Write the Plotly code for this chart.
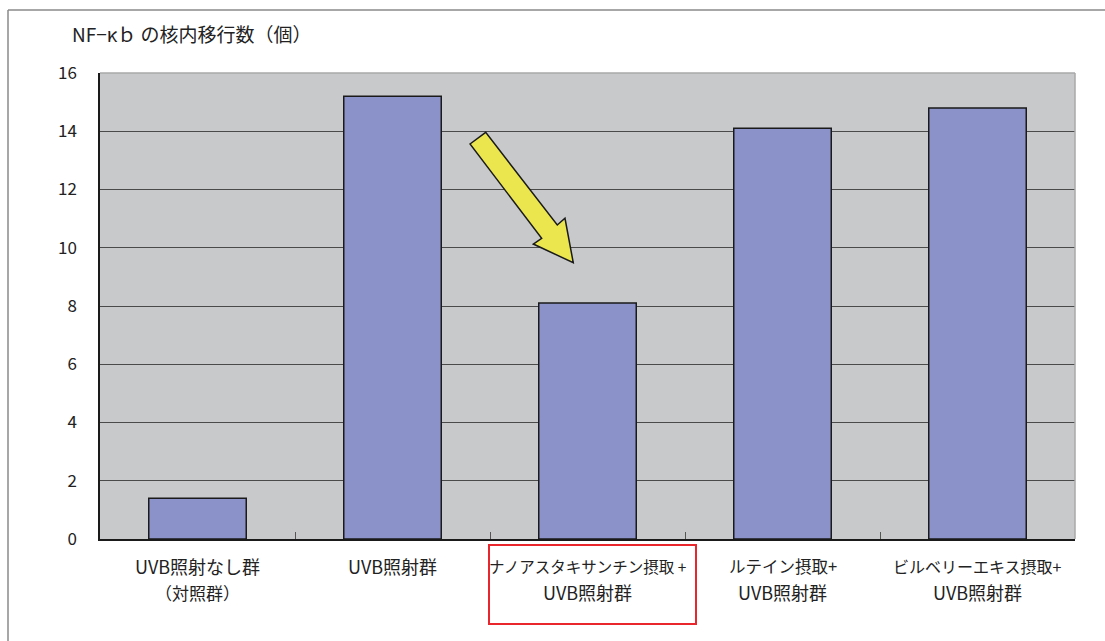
import plotly.graph_objects as go

categories = ["対照", "UVB", "ナノアスタキサンチン", "ルテイン", "ビルベリー"]
label_line1 = [
    "UVB照射なし群",
    "UVB照射群",
    "ナノアスタキサンチン摂取 +",
    "ルテイン摂取+",
    "ビルベリーエキス摂取+",
]
label_line2 = ["（対照群）", "", "UVB照射群", "UVB照射群", "UVB照射群"]
values = [1.4, 15.2, 8.1, 14.1, 14.8]
y_ticks = [0, 2, 4, 6, 8, 10, 12, 14, 16]
line1_sizes = [18, 18, 15.5, 16.5, 16]
line2_sizes = [17, 18, 18, 18, 18]

W, H = 1105, 641
ML, MR, MT, MB = 100, 30, 73, 102
PW, PH = W - ML - MR, H - MT - MB

def px(x, y):
    return (x - ML) / PW, (H - MB - y) / PH

FONT = "Noto Sans CJK JP, Noto Sans, sans-serif"

fig = go.Figure(go.Bar(
    x=categories, y=values,
    marker=dict(color="#8a92c9", line=dict(color="#1a1a1a", width=1.5)),
))

# arrow polygon (pixel outline -> paper)
arrow_pts = [(470, 144), (485.7, 132.3), (557.3, 225), (565, 218.3),
             (573.3, 262.7), (533.3, 244), (541.7, 238.3)]
pts = [px(a, b) for a, b in arrow_pts]
path = "M " + " L ".join(f"{a:.4f},{b:.4f}" for a, b in pts) + " Z"

shapes = [
    dict(type="path", path=path, xref="paper", yref="paper",
         fillcolor="#ebe64e", line=dict(color="#1a1a1a", width=1.5)),
]
# red box around third label
x0, y1 = px(489, 545)
x1, y0 = px(696, 624)
shapes.append(dict(type="rect", xref="paper", yref="paper", x0=x0, x1=x1, y0=y0, y1=y1,
                   line=dict(color="#e8262b", width=2), fillcolor="rgba(0,0,0,0)"))
# outer frame (top and left)
fx, fy = px(8, 10)
_, fb = px(8, 700)
fr, _ = px(1200, 10)
shapes.append(dict(type="line", xref="paper", yref="paper", x0=fx, x1=fr, y0=fy, y1=fy,
                   line=dict(color="#8a8a8a", width=1.5)))
shapes.append(dict(type="line", xref="paper", yref="paper", x0=fx, x1=fx, y0=fb, y1=fy,
                   line=dict(color="#8a8a8a", width=1.5)))
# plot area border top/right
shapes.append(dict(type="line", xref="paper", yref="paper", x0=0, x1=1, y0=1, y1=1,
                   line=dict(color="#a8a8a8", width=1.5)))
shapes.append(dict(type="line", xref="paper", yref="paper", x0=1, x1=1, y0=0, y1=1,
                   line=dict(color="#a8a8a8", width=1.5)))

annotations = []
tx, ty = px(70, 33)
annotations.append(dict(text="NF−κｂ の核内移行数（個）", xref="paper", yref="paper",
                        x=tx, y=ty, xanchor="left", yanchor="middle", showarrow=False,
                        font=dict(size=19, family=FONT, color="#222222")))
_, yl1 = px(0, 566)
_, yl2 = px(0, 592)
for cat, l1, l2, s1, s2 in zip(categories, label_line1, label_line2, line1_sizes, line2_sizes):
    for txt, yy, ss in ((l1, yl1, s1), (l2, yl2, s2)):
        if txt:
            annotations.append(dict(text=txt, xref="x", yref="paper", x=cat, y=yy,
                                    xanchor="center", yanchor="middle", showarrow=False,
                                    font=dict(size=ss, family=FONT, color="#222222")))

fig.update_layout(
    width=W, height=H,
    margin=dict(l=ML, r=MR, t=MT, b=MB, autoexpand=False),
    paper_bgcolor="white",
    plot_bgcolor="#c8c9cb",
    bargap=0.5,
    showlegend=False,
    font=dict(family=FONT, size=16, color="#222222"),
    shapes=shapes,
    annotations=annotations,
    xaxis=dict(showline=True, linecolor="#1a1a1a", linewidth=1.5,
               ticks="inside", tickson="boundaries", ticklen=7, tickcolor="#555555",
               showgrid=False, showticklabels=False, automargin=False),
    yaxis=dict(range=[0, 16], tickvals=y_ticks, showline=True, linecolor="#1a1a1a",
               linewidth=1.5, gridcolor="#4a4a4a", gridwidth=1, ticks="",
               tickfont=dict(size=17), ticklabelstandoff=18, zeroline=False,
               automargin=False),
)

fig.write_html("out.html")
